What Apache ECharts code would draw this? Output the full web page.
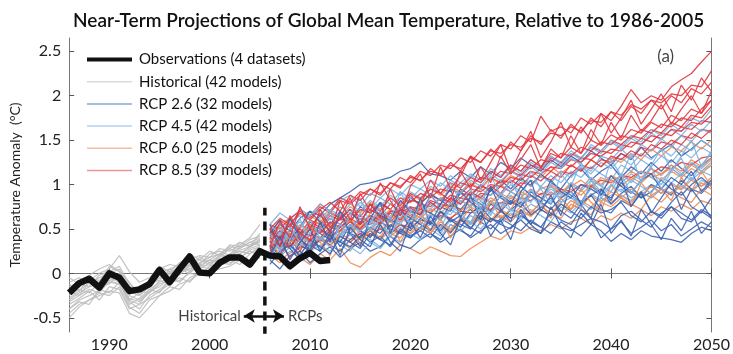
<!DOCTYPE html>
<html>
<head>
<meta charset="utf-8">
<script src="https://cdn.jsdelivr.net/npm/echarts@6/dist/echarts.min.js"></script>
<style>
  html, body { margin: 0; padding: 0; background: #fff; }
  #chart { width: 733px; height: 354px; }
</style>
</head>
<body>
<div id="chart"></div>
<script>
// near-term projections
const xTicks = [1990, 2000, 2010, 2020, 2030, 2040, 2050]
const yTicks = [-0.5, 0, 0.5, 1, 1.5, 2, 2.5]

const obsYears = [1986, 1987, 1988, 1989, 1990, 1991, 1992, 1993, 1994, 1995, 1996, 1997, 1998, 1999,
  2000, 2001, 2002, 2003, 2004, 2005, 2006, 2007, 2008, 2009, 2010, 2011, 2012]
const observations = [-0.22, -0.11, -0.06, -0.16, 0.00, -0.05, -0.20, -0.18, -0.12, 0.04, -0.10, 0.05, 0.19, 0.01,
  0.00, 0.12, 0.18, 0.18, 0.10, 0.25, 0.20, 0.19, 0.08, 0.17, 0.23, 0.14, 0.15]

const histYears = [1986, 1987, 1988, 1989, 1990, 1991, 1992, 1993, 1994, 1995,
  1996, 1997, 1998, 1999, 2000, 2001, 2002, 2003, 2004, 2005]
const historical = [
  [-0.30, -0.22, -0.15, -0.12, -0.05, -0.10, -0.35, -0.28, -0.18, -0.10, -0.05, 0.00, 0.08, 0.05, 0.12, 0.15, 0.20, 0.25, 0.22, 0.30],
  [-0.15, -0.10, -0.02, 0.05, 0.10, 0.02, -0.20, -0.25, -0.12, 0.00, 0.05, 0.10, 0.02, 0.12, 0.18, 0.22, 0.30, 0.28, 0.35, 0.40],
  [-0.45, -0.35, -0.30, -0.25, -0.20, -0.22, -0.45, -0.50, -0.38, -0.25, -0.20, -0.12, -0.08, 0.00, 0.05, 0.08, 0.15, 0.10, 0.22, 0.28],
  [-0.20, -0.25, -0.10, -0.18, -0.08, -0.02, -0.25, -0.30, -0.20, -0.15, -0.05, 0.05, 0.00, 0.10, 0.08, 0.20, 0.18, 0.30, 0.32, 0.38],
  [-0.05, -0.12, -0.08, 0.00, 0.05, 0.20, 0.02, -0.10, -0.05, 0.08, 0.02, 0.12, 0.18, 0.10, 0.22, 0.25, 0.20, 0.35, 0.30, 0.45],
  [-0.35, -0.28, -0.20, -0.30, -0.15, -0.18, -0.40, -0.35, -0.28, -0.20, -0.12, -0.05, -0.10, 0.02, 0.00, 0.10, 0.12, 0.18, 0.25, 0.20],
  [-0.25, -0.18, -0.22, -0.10, -0.02, -0.08, -0.30, -0.22, -0.15, -0.05, 0.02, -0.02, 0.10, 0.15, 0.10, 0.18, 0.28, 0.22, 0.30, 0.35],
  [-0.10, -0.05, -0.12, -0.05, 0.00, 0.05, -0.15, -0.18, -0.08, 0.05, 0.10, 0.08, 0.15, 0.20, 0.18, 0.28, 0.25, 0.32, 0.40, 0.55],
  [-0.40, -0.30, -0.25, -0.20, -0.10, -0.12, -0.32, -0.40, -0.25, -0.18, -0.10, -0.08, 0.00, -0.02, 0.08, 0.12, 0.10, 0.20, 0.15, 0.25],
  [-0.28, -0.20, -0.10, -0.15, -0.12, 0.00, -0.18, -0.20, -0.22, -0.08, -0.12, 0.02, 0.05, 0.12, 0.15, 0.12, 0.22, 0.28, 0.35, 0.32],
  [-0.18, -0.15, -0.05, -0.10, 0.08, 0.02, -0.10, -0.25, -0.15, -0.02, 0.00, 0.08, 0.22, 0.15, 0.25, 0.20, 0.32, 0.30, 0.38, 0.42],
  [-0.50, -0.38, -0.30, -0.22, -0.25, -0.15, -0.38, -0.45, -0.30, -0.25, -0.15, -0.18, -0.05, 0.00, 0.02, 0.05, 0.08, 0.15, 0.12, 0.18],
  [-0.32, -0.25, -0.18, -0.22, -0.08, -0.12, -0.28, -0.32, -0.22, -0.12, -0.08, 0.02, 0.05, 0.08, 0.15, 0.12, 0.18, 0.22, 0.28, 0.32],
  [-0.22, -0.12, -0.15, -0.02, 0.02, -0.05, -0.22, -0.15, -0.10, -0.08, 0.05, 0.00, 0.12, 0.08, 0.15, 0.22, 0.18, 0.26, 0.30, 0.36],
  [-0.40, -0.32, -0.35, -0.18, -0.22, -0.10, -0.30, -0.35, -0.18, -0.22, -0.05, -0.10, 0.02, 0.08, 0.05, 0.15, 0.20, 0.18, 0.26, 0.30],
  [-0.12, -0.20, -0.05, -0.08, 0.02, 0.08, -0.12, -0.20, -0.10, 0.02, -0.02, 0.10, 0.08, 0.18, 0.12, 0.20, 0.28, 0.35, 0.30, 0.38]
]

const rcpYears = [2006, 2007, 2008, 2009, 2010, 2011, 2012, 2013, 2014, 2015, 2016, 2017, 2018, 2019, 2020,
  2021, 2022, 2023, 2024, 2025, 2026, 2027, 2028, 2029, 2030, 2031, 2032, 2033, 2034, 2035,
  2036, 2037, 2038, 2039, 2040, 2041, 2042, 2043, 2044, 2045, 2046, 2047, 2048, 2049, 2050]

const rcp26 = [
  [0.40, 0.55, 0.48, 0.62, 0.70, 0.65, 0.78, 0.85, 0.92, 1.00, 1.02, 1.05, 1.08, 1.15, 1.18, 1.25, 1.12, 1.10, 1.05, 1.15, 1.08, 1.20, 1.12, 1.25, 1.18, 1.30, 1.22, 1.15, 1.28, 1.20, 1.32, 1.25, 1.38, 1.30, 1.22, 1.35, 1.28, 1.42, 1.30, 1.38, 1.45, 1.32, 1.40, 1.50, 1.42],
  [0.15, 0.05, 0.20, 0.25, 0.12, 0.22, 0.30, 0.18, 0.28, 0.35, 0.25, 0.30, 0.42, 0.32, 0.28, 0.38, 0.45, 0.35, 0.42, 0.50, 0.40, 0.48, 0.55, 0.45, 0.52, 0.60, 0.50, 0.45, 0.58, 0.52, 0.48, 0.55, 0.62, 0.40, 0.50, 0.58, 0.45, 0.52, 0.60, 0.48, 0.55, 0.42, 0.50, 0.58, 0.52],
  [0.30, 0.22, 0.35, 0.18, 0.28, 0.40, 0.32, 0.25, 0.38, 0.45, 0.35, 0.42, 0.30, 0.48, 0.40, 0.52, 0.45, 0.38, 0.55, 0.48, 0.42, 0.58, 0.50, 0.62, 0.55, 0.48, 0.60, 0.52, 0.45, 0.58, 0.50, 0.42, 0.55, 0.48, 0.36, 0.45, 0.38, 0.48, 0.42, 0.40, 0.38, 0.35, 0.45, 0.52, 0.48],
  [0.35, 0.48, 0.30, 0.42, 0.55, 0.45, 0.38, 0.52, 0.60, 0.48, 0.58, 0.65, 0.52, 0.70, 0.62, 0.75, 0.68, 0.60, 0.78, 0.72, 0.85, 0.78, 0.70, 0.88, 0.80, 0.75, 0.92, 0.85, 0.78, 0.95, 0.88, 0.80, 0.98, 0.90, 0.85, 1.02, 0.92, 0.85, 1.00, 0.95, 0.88, 1.05, 0.95, 0.90, 1.02],
  [0.50, 0.38, 0.60, 0.45, 0.52, 0.65, 0.55, 0.70, 0.58, 0.75, 0.68, 0.80, 0.72, 0.65, 0.85, 0.78, 0.90, 0.82, 0.75, 0.95, 0.88, 1.00, 0.92, 1.05, 0.95, 1.08, 0.98, 1.12, 1.02, 0.95, 1.10, 1.18, 1.05, 1.15, 1.22, 1.08, 1.20, 1.12, 1.25, 1.15, 1.28, 1.18, 1.10, 1.22, 1.30],
  [0.22, 0.35, 0.28, 0.15, 0.32, 0.25, 0.40, 0.35, 0.30, 0.42, 0.48, 0.38, 0.55, 0.45, 0.40, 0.52, 0.58, 0.48, 0.62, 0.55, 0.50, 0.65, 0.58, 0.70, 0.62, 0.68, 0.55, 0.72, 0.65, 0.78, 0.70, 0.62, 0.75, 0.68, 0.72, 0.80, 0.65, 0.58, 0.70, 0.62, 0.75, 0.68, 0.60, 0.72, 0.65],
  [0.28, 0.18, 0.40, 0.32, 0.25, 0.38, 0.48, 0.30, 0.45, 0.40, 0.52, 0.45, 0.60, 0.55, 0.48, 0.62, 0.55, 0.70, 0.58, 0.65, 0.72, 0.60, 0.78, 0.70, 0.82, 0.75, 0.88, 0.80, 0.72, 0.85, 0.92, 0.80, 0.88, 0.95, 0.78, 0.90, 0.98, 0.85, 0.92, 1.05, 0.95, 0.88, 1.00, 1.08, 0.98],
  [0.32, 0.20, 0.45, 0.38, 0.30, 0.50, 0.42, 0.35, 0.55, 0.48, 0.40, 0.58, 0.50, 0.45, 0.62, 0.55, 0.48, 0.70, 0.60, 0.52, 0.68, 0.75, 0.62, 0.58, 0.72, 0.80, 0.66, 0.74, 0.85, 0.70, 0.62, 0.78, 0.88, 0.72, 0.68, 0.82, 0.76, 0.90, 0.70, 0.65, 0.80, 0.92, 0.75, 0.68, 0.85],
  [0.45, 0.60, 0.38, 0.52, 0.70, 0.58, 0.48, 0.62, 0.72, 0.55, 0.78, 0.65, 0.60, 0.82, 0.70, 0.66, 0.88, 0.75, 0.70, 0.92, 0.80, 0.72, 0.95, 0.85, 0.78, 0.98, 0.88, 0.80, 1.05, 0.92, 0.85, 1.00, 0.95, 0.88, 1.10, 0.98, 0.90, 1.05, 1.12, 0.95, 1.08, 1.00, 1.15, 0.92, 1.05],
  [0.10, 0.25, 0.32, 0.20, 0.38, 0.30, 0.22, 0.42, 0.35, 0.28, 0.45, 0.38, 0.32, 0.50, 0.42, 0.48, 0.40, 0.55, 0.46, 0.60, 0.52, 0.45, 0.62, 0.55, 0.50, 0.65, 0.58, 0.52, 0.68, 0.60, 0.55, 0.72, 0.62, 0.58, 0.50, 0.65, 0.70, 0.60, 0.52, 0.68, 0.75, 0.62, 0.58, 0.70, 0.62],
  [0.55, 0.30, 0.62, 0.40, 0.25, 0.58, 0.35, 0.70, 0.45, 0.30, 0.62, 0.80, 0.45, 0.72, 0.50, 0.85, 0.55, 0.78, 0.95, 0.62, 0.88, 0.60, 0.98, 0.72, 0.58, 0.92, 1.05, 0.70, 0.88, 0.65, 1.00, 0.78, 0.62, 0.95, 0.82, 1.08, 0.75, 0.92, 0.68, 0.85, 1.02, 0.72, 0.95, 0.80, 0.62],
  [0.20, 0.42, 0.15, 0.35, 0.50, 0.25, 0.45, 0.20, 0.52, 0.38, 0.30, 0.55, 0.35, 0.25, 0.58, 0.40, 0.65, 0.45, 0.32, 0.62, 0.50, 0.70, 0.42, 0.60, 0.38, 0.72, 0.55, 0.45, 0.75, 0.52, 0.40, 0.68, 0.55, 0.78, 0.45, 0.60, 0.42, 0.72, 0.55, 0.38, 0.62, 0.48, 0.70, 0.45, 0.58]
]

const rcp45 = [
  [0.40, 0.52, 0.35, 0.48, 0.42, 0.55, 0.50, 0.62, 0.48, 0.58, 0.65, 0.55, 0.70, 0.62, 0.75, 0.68, 0.80, 0.72, 0.85, 0.78, 0.90, 0.82, 0.95, 0.88, 1.00, 0.92, 1.05, 0.98, 1.10, 1.02, 1.15, 1.08, 1.20, 1.12, 1.05, 1.22, 1.15, 1.28, 1.20, 1.32, 1.25, 1.38, 1.30, 1.42, 1.35],
  [0.25, 0.18, 0.30, 0.22, 0.35, 0.28, 0.40, 0.32, 0.25, 0.42, 0.38, 0.30, 0.45, 0.52, 0.40, 0.48, 0.55, 0.45, 0.60, 0.52, 0.65, 0.58, 0.70, 0.62, 0.72, 0.68, 0.78, 0.72, 0.65, 0.80, 0.85, 0.75, 0.90, 0.82, 0.88, 0.95, 0.85, 0.92, 1.00, 0.90, 1.02, 0.95, 1.08, 0.98, 1.05],
  [0.55, 0.68, 0.60, 0.72, 0.65, 0.78, 0.70, 0.82, 0.88, 0.75, 0.90, 0.85, 0.95, 0.88, 1.00, 0.95, 1.05, 0.98, 1.10, 1.02, 1.12, 1.05, 1.18, 1.10, 1.22, 1.15, 1.28, 1.20, 1.32, 1.25, 1.38, 1.30, 1.42, 1.35, 1.48, 1.40, 1.52, 1.45, 1.58, 1.50, 1.62, 1.55, 1.68, 1.60, 1.72],
  [0.32, 0.42, 0.28, 0.38, 0.45, 0.35, 0.48, 0.42, 0.55, 0.45, 0.52, 0.60, 0.48, 0.58, 0.65, 0.55, 0.68, 0.62, 0.72, 0.65, 0.78, 0.70, 0.82, 0.75, 0.88, 0.80, 0.92, 0.85, 0.95, 0.88, 1.00, 0.92, 1.05, 0.98, 1.10, 1.02, 1.12, 1.05, 1.18, 1.10, 1.22, 1.12, 1.25, 1.18, 1.28],
  [0.15, 0.28, 0.22, 0.35, 0.25, 0.32, 0.25, 0.38, 0.30, 0.22, 0.35, 0.28, 0.42, 0.35, 0.45, 0.38, 0.50, 0.42, 0.55, 0.48, 0.58, 0.50, 0.62, 0.55, 0.68, 0.60, 0.72, 0.65, 0.58, 0.75, 0.68, 0.80, 0.72, 0.85, 0.78, 0.88, 0.80, 0.92, 0.85, 0.95, 0.90, 1.00, 0.92, 1.05, 0.98],
  [0.45, 0.35, 0.50, 0.58, 0.45, 0.52, 0.62, 0.55, 0.50, 0.65, 0.58, 0.70, 0.62, 0.75, 0.68, 0.80, 0.72, 0.85, 0.78, 0.90, 0.82, 0.95, 0.88, 1.00, 0.92, 1.05, 0.98, 1.10, 1.02, 1.15, 1.08, 1.20, 1.12, 1.25, 1.18, 1.30, 1.22, 1.35, 1.28, 1.40, 1.32, 1.45, 1.38, 1.50, 1.42],
  [0.50, 0.42, 0.58, 0.65, 0.55, 0.62, 0.72, 0.65, 0.78, 0.70, 0.82, 0.75, 0.88, 0.80, 0.92, 0.85, 0.98, 0.90, 1.05, 0.98, 1.10, 1.02, 1.15, 1.08, 1.20, 1.12, 1.25, 1.18, 1.32, 1.22, 1.35, 1.28, 1.45, 1.38, 1.50, 1.42, 1.55, 1.48, 1.62, 1.55, 1.68, 1.60, 1.75, 1.70, 1.85],
  [0.38, 0.28, 0.50, 0.42, 0.35, 0.48, 0.58, 0.44, 0.52, 0.62, 0.50, 0.68, 0.58, 0.55, 0.72, 0.65, 0.78, 0.70, 0.66, 0.82, 0.75, 0.88, 0.80, 0.74, 0.92, 0.85, 0.80, 0.98, 0.90, 0.86, 1.02, 0.95, 1.08, 0.98, 0.92, 1.12, 1.02, 1.15, 1.08, 1.00, 1.18, 1.10, 1.25, 1.15, 1.22],
  [0.20, 0.35, 0.42, 0.30, 0.45, 0.38, 0.50, 0.40, 0.55, 0.48, 0.60, 0.52, 0.45, 0.62, 0.58, 0.50, 0.66, 0.60, 0.72, 0.64, 0.58, 0.75, 0.68, 0.80, 0.70, 0.78, 0.88, 0.75, 0.82, 0.92, 0.85, 0.80, 0.95, 0.88, 1.00, 0.92, 1.05, 0.98, 0.90, 1.08, 1.02, 1.12, 1.05, 1.15, 1.10],
  [0.55, 0.45, 0.60, 0.52, 0.66, 0.72, 0.60, 0.75, 0.68, 0.80, 0.72, 0.85, 0.78, 0.92, 0.84, 0.95, 0.88, 1.02, 0.94, 0.90, 1.05, 0.98, 1.12, 1.04, 1.15, 1.08, 1.20, 1.12, 1.25, 1.18, 1.30, 1.22, 1.15, 1.32, 1.28, 1.40, 1.30, 1.45, 1.38, 1.52, 1.42, 1.55, 1.48, 1.62, 1.58],
  [0.30, 0.55, 0.38, 0.62, 0.28, 0.50, 0.70, 0.42, 0.65, 0.85, 0.55, 0.78, 0.60, 0.92, 0.70, 0.58, 0.88, 0.75, 1.02, 0.80, 0.95, 0.72, 1.10, 0.88, 1.05, 0.82, 1.15, 0.95, 0.78, 1.12, 0.98, 1.25, 1.05, 0.92, 1.28, 1.10, 1.35, 1.02, 1.22, 1.40, 1.15, 1.32, 1.50, 1.20, 1.38],
  [0.45, 0.25, 0.52, 0.35, 0.60, 0.40, 0.30, 0.55, 0.42, 0.68, 0.48, 0.62, 0.40, 0.70, 0.55, 0.78, 0.60, 0.50, 0.75, 0.68, 0.55, 0.82, 0.65, 0.90, 0.72, 0.62, 0.95, 0.78, 1.00, 0.80, 0.92, 0.72, 1.05, 0.85, 0.98, 1.12, 0.90, 1.05, 1.20, 0.95, 1.15, 1.30, 1.05, 1.22, 1.35]
]

const rcp60 = [
  [0.20, 0.12, 0.25, 0.18, 0.10, 0.22, 0.15, 0.28, 0.12, 0.07, 0.18, 0.25, 0.20, 0.32, 0.28, 0.22, 0.30, 0.25, 0.20, 0.19, 0.28, 0.35, 0.42, 0.38, 0.48, 0.45, 0.52, 0.48, 0.55, 0.50, 0.58, 0.62, 0.55, 0.65, 0.60, 0.68, 0.62, 0.72, 0.65, 0.75, 0.70, 0.78, 0.72, 0.82, 0.78],
  [0.35, 0.45, 0.30, 0.42, 0.38, 0.48, 0.40, 0.52, 0.45, 0.55, 0.50, 0.58, 0.52, 0.62, 0.55, 0.65, 0.58, 0.68, 0.62, 0.72, 0.75, 0.68, 0.80, 0.72, 0.85, 0.78, 0.88, 0.82, 0.92, 0.85, 0.95, 0.88, 1.00, 0.92, 1.05, 0.98, 1.08, 1.02, 1.12, 1.05, 1.15, 1.08, 1.18, 1.12, 1.22],
  [0.28, 0.38, 0.45, 0.35, 0.30, 0.40, 0.35, 0.45, 0.38, 0.48, 0.42, 0.52, 0.45, 0.40, 0.55, 0.48, 0.58, 0.52, 0.45, 0.60, 0.55, 0.65, 0.58, 0.70, 0.62, 0.72, 0.65, 0.75, 0.68, 0.78, 0.72, 0.82, 0.75, 0.85, 0.80, 0.88, 0.82, 0.92, 0.85, 0.95, 0.90, 0.98, 0.92, 1.02, 0.95],
  [0.45, 0.55, 0.62, 0.50, 0.65, 0.58, 0.70, 0.62, 0.75, 0.68, 0.80, 0.72, 0.85, 0.78, 0.90, 0.82, 0.95, 0.88, 0.98, 0.92, 1.02, 0.95, 1.08, 1.00, 1.10, 1.05, 1.15, 1.08, 1.20, 1.12, 1.22, 1.15, 1.28, 1.20, 1.30, 1.25, 1.35, 1.28, 1.40, 1.32, 1.42, 1.38, 1.48, 1.40, 1.50],
  [0.22, 0.30, 0.40, 0.28, 0.35, 0.30, 0.42, 0.36, 0.28, 0.40, 0.45, 0.38, 0.48, 0.55, 0.45, 0.52, 0.45, 0.58, 0.50, 0.62, 0.58, 0.68, 0.60, 0.72, 0.65, 0.75, 0.68, 0.80, 0.72, 0.70, 0.82, 0.75, 0.88, 0.80, 0.92, 0.85, 0.95, 0.88, 0.98, 0.90, 1.00, 0.94, 1.05, 0.98, 1.08],
  [0.38, 0.30, 0.48, 0.42, 0.52, 0.45, 0.55, 0.48, 0.60, 0.52, 0.62, 0.55, 0.65, 0.58, 0.70, 0.62, 0.72, 0.68, 0.78, 0.70, 0.82, 0.75, 0.85, 0.78, 0.92, 0.85, 0.95, 0.88, 0.98, 0.90, 1.02, 0.95, 1.08, 1.00, 1.10, 1.05, 1.15, 1.08, 1.18, 1.12, 1.22, 1.15, 1.28, 1.20, 1.30],
  [0.30, 0.22, 0.35, 0.45, 0.32, 0.40, 0.30, 0.45, 0.52, 0.38, 0.48, 0.55, 0.42, 0.50, 0.45, 0.58, 0.50, 0.55, 0.48, 0.62, 0.56, 0.68, 0.60, 0.65, 0.58, 0.70, 0.64, 0.75, 0.68, 0.62, 0.78, 0.72, 0.66, 0.80, 0.75, 0.85, 0.78, 0.72, 0.88, 0.80, 0.92, 0.85, 0.80, 0.95, 0.88],
  [0.42, 0.52, 0.40, 0.55, 0.48, 0.60, 0.52, 0.65, 0.58, 0.50, 0.68, 0.62, 0.72, 0.65, 0.60, 0.75, 0.70, 0.78, 0.72, 0.82, 0.76, 0.85, 0.80, 0.90, 0.84, 0.92, 0.86, 0.95, 1.00, 0.92, 0.98, 1.05, 0.96, 1.08, 1.02, 1.10, 1.05, 1.15, 1.08, 1.12, 1.18, 1.10, 1.22, 1.15, 1.25],
  [0.40, 0.18, 0.45, 0.30, 0.55, 0.35, 0.20, 0.48, 0.60, 0.32, 0.50, 0.40, 0.62, 0.35, 0.55, 0.70, 0.45, 0.62, 0.40, 0.58, 0.75, 0.55, 0.82, 0.62, 0.72, 0.90, 0.68, 0.80, 0.62, 0.85, 0.72, 0.95, 0.80, 0.70, 1.00, 0.85, 0.75, 1.02, 0.88, 0.95, 0.82, 1.08, 0.92, 1.15, 0.98]
]

const rcp85 = [
  [0.45, 0.60, 0.52, 0.72, 0.65, 0.78, 0.70, 0.85, 0.80, 0.92, 0.88, 1.00, 0.95, 1.08, 1.02, 1.15, 1.10, 1.22, 1.18, 1.30, 1.25, 1.38, 1.32, 1.45, 1.40, 1.55, 1.48, 1.77, 1.60, 1.65, 1.58, 1.75, 1.68, 1.80, 1.72, 1.88, 2.07, 1.92, 2.00, 1.95, 2.10, 2.18, 2.25, 2.38, 2.50],
  [0.40, 0.32, 0.48, 0.42, 0.55, 0.50, 0.62, 0.55, 0.68, 0.60, 0.72, 0.65, 0.78, 0.70, 0.82, 0.80, 0.88, 0.82, 0.95, 0.90, 1.00, 0.95, 1.08, 1.02, 1.15, 1.10, 1.22, 1.18, 1.30, 1.25, 1.35, 1.30, 1.42, 1.38, 1.50, 1.45, 1.55, 1.52, 1.62, 1.58, 1.70, 1.65, 1.78, 1.75, 1.88],
  [0.30, 0.42, 0.38, 0.25, 0.45, 0.40, 0.52, 0.48, 0.45, 0.58, 0.55, 0.62, 0.58, 0.70, 0.65, 0.72, 0.68, 0.78, 0.75, 0.85, 0.82, 0.90, 0.88, 0.98, 0.92, 1.02, 1.00, 1.10, 1.05, 1.15, 1.12, 1.22, 1.18, 1.28, 1.25, 1.35, 1.30, 1.42, 1.38, 1.48, 1.45, 1.55, 1.52, 1.62, 1.60],
  [0.55, 0.50, 0.62, 0.70, 0.62, 0.75, 0.68, 0.82, 0.78, 0.88, 0.95, 0.90, 1.02, 0.98, 1.08, 1.05, 1.15, 1.12, 1.22, 1.18, 1.30, 1.25, 1.38, 1.35, 1.45, 1.42, 1.52, 1.48, 1.58, 1.55, 1.65, 1.60, 1.72, 1.70, 1.82, 1.78, 1.90, 1.85, 1.95, 1.92, 2.02, 2.00, 2.12, 2.10, 2.28],
  [0.35, 0.28, 0.40, 0.50, 0.42, 0.48, 0.45, 0.55, 0.50, 0.62, 0.58, 0.68, 0.62, 0.72, 0.68, 0.78, 0.75, 0.85, 0.80, 0.90, 0.88, 0.98, 0.95, 1.05, 1.02, 1.12, 1.08, 1.18, 1.15, 1.25, 1.20, 1.30, 1.28, 1.38, 1.35, 1.45, 1.42, 1.52, 1.48, 1.58, 1.55, 1.65, 1.62, 1.72, 1.70],
  [0.25, 0.35, 0.18, 0.30, 0.28, 0.38, 0.32, 0.42, 0.35, 0.45, 0.42, 0.50, 0.45, 0.55, 0.52, 0.60, 0.58, 0.65, 0.62, 0.70, 0.68, 0.75, 0.72, 0.80, 0.78, 0.85, 0.82, 0.90, 0.88, 0.95, 0.92, 1.00, 0.98, 1.05, 1.02, 1.10, 1.08, 1.15, 1.12, 1.20, 1.18, 1.25, 1.22, 1.30, 1.32],
  [0.48, 0.40, 0.55, 0.45, 0.60, 0.55, 0.68, 0.62, 0.58, 0.72, 0.68, 0.78, 0.72, 0.85, 0.80, 0.90, 0.85, 0.95, 0.92, 1.02, 0.98, 1.08, 1.05, 1.15, 1.12, 1.22, 1.18, 1.28, 1.25, 1.35, 1.32, 1.42, 1.38, 1.48, 1.45, 1.55, 1.52, 1.62, 1.58, 1.68, 1.65, 1.75, 1.72, 1.85, 1.95],
  [0.38, 0.48, 0.42, 0.35, 0.50, 0.45, 0.58, 0.52, 0.62, 0.55, 0.65, 0.60, 0.70, 0.68, 0.75, 0.72, 0.82, 0.78, 0.88, 0.85, 0.95, 0.92, 1.00, 0.98, 1.08, 1.05, 1.15, 1.12, 1.20, 1.18, 1.28, 1.25, 1.35, 1.32, 1.40, 1.38, 1.48, 1.45, 1.55, 1.52, 1.62, 1.60, 1.70, 1.68, 1.78],
  [0.42, 0.55, 0.48, 0.38, 0.58, 0.52, 0.65, 0.60, 0.72, 0.64, 0.78, 0.70, 0.85, 0.76, 0.90, 0.84, 0.95, 0.90, 1.02, 0.96, 1.08, 1.02, 1.15, 1.08, 1.22, 1.15, 1.28, 1.20, 1.35, 1.30, 1.42, 1.35, 1.50, 1.44, 1.56, 1.50, 1.62, 1.58, 1.70, 1.64, 1.78, 1.72, 1.85, 1.80, 1.95],
  [0.28, 0.38, 0.30, 0.45, 0.36, 0.50, 0.42, 0.48, 0.58, 0.50, 0.62, 0.56, 0.68, 0.60, 0.74, 0.66, 0.80, 0.72, 0.85, 0.78, 0.92, 0.85, 0.98, 0.90, 1.05, 0.98, 1.10, 1.04, 1.15, 1.08, 1.22, 1.15, 1.28, 1.20, 1.32, 1.28, 1.38, 1.32, 1.45, 1.40, 1.50, 1.45, 1.58, 1.52, 1.62],
  [0.50, 0.62, 0.55, 0.68, 0.60, 0.72, 0.80, 0.70, 0.88, 0.82, 0.95, 0.88, 1.02, 0.96, 1.10, 1.04, 1.18, 1.10, 1.25, 1.15, 1.32, 1.25, 1.40, 1.30, 1.48, 1.38, 1.55, 1.45, 1.62, 1.52, 1.68, 1.58, 1.75, 1.65, 1.82, 1.72, 1.88, 1.80, 1.95, 1.85, 2.00, 1.92, 2.08, 2.02, 2.15],
  [0.30, 0.58, 0.40, 0.75, 0.50, 0.68, 0.45, 0.82, 0.60, 0.90, 0.70, 1.02, 0.82, 0.65, 0.98, 1.12, 0.85, 1.20, 0.95, 1.10, 1.32, 1.05, 1.25, 1.45, 1.15, 1.38, 1.60, 1.30, 1.48, 1.70, 1.42, 1.65, 1.50, 1.80, 1.58, 1.75, 1.95, 1.68, 1.85, 2.02, 1.82, 2.12, 1.95, 2.20, 2.05],
  [0.50, 0.30, 0.65, 0.45, 0.38, 0.72, 0.52, 0.62, 0.85, 0.55, 0.78, 0.62, 0.95, 0.72, 0.88, 0.75, 1.05, 0.90, 0.82, 1.15, 0.95, 1.20, 1.02, 1.32, 1.12, 1.28, 1.45, 1.18, 1.40, 1.30, 1.55, 1.35, 1.62, 1.45, 1.70, 1.52, 1.78, 1.60, 1.72, 1.90, 1.68, 1.85, 2.00, 1.80, 2.05]
]

const names = {
  obs: 'Observations (4 datasets)',
  hist: 'Historical (42 models)',
  r26: 'RCP 2.6 (32 models)',
  r45: 'RCP 4.5 (42 models)',
  r60: 'RCP 6.0 (25 models)',
  r85: 'RCP 8.5 (39 models)'
}

const font = 'Lato, "Open Sans", sans-serif'
const myChart = echarts.init(document.getElementById('chart'))

function modelLine(name, years, vals, color, width) {
  return {
    name: name,
    type: 'line',
    symbol: 'none',
    silent: true,
    itemStyle: { color: color },
    lineStyle: { color: color, width: width, opacity: 0.9 },
    data: years.map((y, i) => [y, vals[i]])
  }
}

const series = []
historical.forEach(v => series.push(modelLine(names.hist, histYears, v, '#bdbdbd', 1.2)))

// mix the scenarios so no colour sits fully on top
const groups = [
  [rcp60, names.r60, '#ee8a52'],
  [rcp45, names.r45, '#7db2e2'],
  [rcp26, names.r26, '#3b62b0'],
  [rcp85, names.r85, '#e2363e']
]
for (let i = 0; i < 13; i++) {
  groups.forEach(g => {
    if (g[0][i]) series.push(modelLine(g[1], rcpYears, g[0][i], g[2], 1.25))
  })
}

series.push({
  name: names.obs,
  type: 'line',
  symbol: 'none',
  z: 5,
  itemStyle: { color: '#111' },
  lineStyle: { color: '#111', width: 6.5, join: 'round' },
  data: obsYears.map((y, i) => [y, observations[i]])
})

// dashed divider between historical and scenario runs
series.push({
  type: 'line',
  symbol: 'none',
  z: 6,
  silent: true,
  lineStyle: { color: '#111', width: 3.5, type: [9, 6] },
  data: [[2005.5, -0.7], [2005.5, 0.74]],
  markLine: {
    silent: true,
    symbol: ['arrow', 'arrow'],
    symbolSize: [10, 11],
    label: { show: false },
    lineStyle: { color: '#111', width: 2.5, type: 'solid' },
    data: [[{ coord: [2003.4, -0.48] }, { coord: [2007.4, -0.48] }]]
  }
})

series.push({
  type: 'scatter',
  symbolSize: 0,
  silent: true,
  z: 6,
  label: {
    show: true,
    fontFamily: font,
    fontSize: 15,
    color: '#111',
    formatter: p => p.value[2],
    position: 'left',
    distance: 0
  },
  data: [
    { value: [2003.1, -0.48, 'Historical'] },
    { value: [2007.8, -0.48, 'RCPs'], label: { position: 'right' } }
  ]
})

// panel letter
series.push({
  type: 'scatter',
  symbolSize: 0,
  silent: true,
  z: 6,
  label: {
    show: true,
    fontFamily: font,
    fontSize: 17,
    color: '#111',
    formatter: '(a)',
    position: 'right',
    distance: 0
  },
  data: [[2044.6, 2.44]]
})

const option = {
  animation: false,
  backgroundColor: '#fff',
  title: {
    text: 'Near-Term Projections of Global Mean Temperature, Relative to 1986-2005',
    left: 68,
    top: 6,
    textStyle: { fontFamily: font, fontSize: 19, fontWeight: 600, color: '#111' }
  },
  legend: {
    orient: 'vertical',
    left: 80,
    top: 47,
    itemWidth: 45,
    itemHeight: 14,
    itemGap: 7.2,
    itemStyle: { opacity: 0 },
    textStyle: { fontFamily: font, fontSize: 15, color: '#111', padding: [0, 0, 0, 2] },
    data: [
      { name: names.obs, lineStyle: { color: '#111', width: 4 } },
      { name: names.hist, lineStyle: { color: '#d6d6d6', width: 1.5 } },
      { name: names.r26, lineStyle: { color: '#7f9dd0', width: 1.5 } },
      { name: names.r45, lineStyle: { color: '#a9cdee', width: 1.5 } },
      { name: names.r60, lineStyle: { color: '#f3b694', width: 1.5 } },
      { name: names.r85, lineStyle: { color: '#ec8a8f', width: 1.5 } }
    ]
  },
  grid: { left: 65, right: 17, top: 38, bottom: 22 },
  xAxis: [{
    type: 'value',
    min: 1986,
    max: 2050,
    axisLine: { show: true, lineStyle: { color: '#777', width: 1 } },
    axisTick: { show: true, inside: true, length: 5, customValues: xTicks, lineStyle: { color: '#555' } },
    axisLabel: { customValues: xTicks, formatter: v => String(v), margin: 5, fontFamily: font, fontSize: 16, color: '#222' },
    splitLine: { show: false }
  }, {
    type: 'value',
    position: 'top',
    min: 1986,
    max: 2050,
    axisLine: { show: true, lineStyle: { color: '#777', width: 1 } },
    axisTick: { show: true, inside: true, length: 5, customValues: xTicks, lineStyle: { color: '#555' } },
    axisLabel: { show: false },
    splitLine: { show: false }
  }],
  yAxis: [{
    type: 'value',
    min: -0.66,
    max: 2.65,
    name: 'Temperature Anomaly  (°C)',
    nameLocation: 'middle',
    nameGap: 32,
    nameTextStyle: { fontFamily: font, fontSize: 14, color: '#222' },
    axisLine: { show: true, lineStyle: { color: '#777', width: 1 } },
    axisTick: { show: true, inside: true, length: 5, customValues: yTicks, lineStyle: { color: '#555' } },
    axisLabel: { customValues: yTicks, formatter: v => String(v), margin: 8, fontFamily: font, fontSize: 16, color: '#222' },
    splitLine: { show: false }
  }, {
    type: 'value',
    position: 'right',
    min: -0.66,
    max: 2.65,
    axisLine: { show: true, lineStyle: { color: '#777', width: 1 } },
    axisTick: { show: true, inside: true, length: 5, customValues: yTicks, lineStyle: { color: '#555' } },
    axisLabel: { show: false },
    splitLine: { show: false }
  }],
  series: series
}

myChart.setOption(option)
</script>
</body>
</html>
